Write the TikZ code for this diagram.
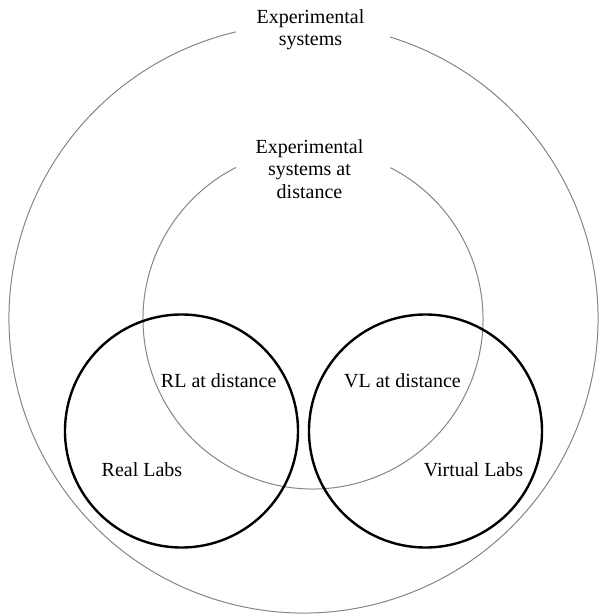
\documentclass[tikz,border=0pt]{standalone}
\usepackage{fontspec}
\setmainfont{Liberation Serif}
\begin{document}
\begin{tikzpicture}[x=1pt,y=-1pt,
  ring/.style={draw=black!48, line width=1pt},
  lab/.style={draw=black, line width=2.4pt},
  lbl/.style={inner sep=0pt, font=\fontsize{20}{22.5}\selectfont},
  title/.style={lbl, align=center, anchor=north}]
  \useasboundingbox (0,0) rectangle (599,614);
  % centres of the four circles (y grows downwards)
  \coordinate (outer) at (303.5,318.5);
  \coordinate (middle) at (313,319);
  \coordinate (real) at (181.5,431);
  \coordinate (virtual) at (425.5,431);
  % outer and middle rings, open at the top for their titles
  \draw[ring] (outer) ++(287.1:294.5) arc[start angle=287.1, end angle=616.7, radius=294.5];
  \draw[ring] (middle) ++(297.1:170) arc[start angle=297.1, end angle=603.1, radius=170];
  % the two lab circles
  \draw[lab] (real) circle[radius=116.5];
  \draw[lab] (virtual) circle[radius=116.5];
  % labels
  \node[title] (tOuter) at (310.5,9.3) {Experimental\\systems};
  \node[title] (tMiddle) at (309.5,139.3) {Experimental\\systems at\\distance};
  \node[lbl, anchor=base] (tRLd) at (218.7,387) {RL at distance};
  \node[lbl, anchor=base] (tVLd) at (402.5,387) {VL at distance};
  \node[lbl, anchor=base] (tReal) at (142,476.7) {Real Labs};
  \node[lbl, anchor=base] (tVirtual) at (473.5,476.7) {Virtual Labs};
\end{tikzpicture}
\end{document}
